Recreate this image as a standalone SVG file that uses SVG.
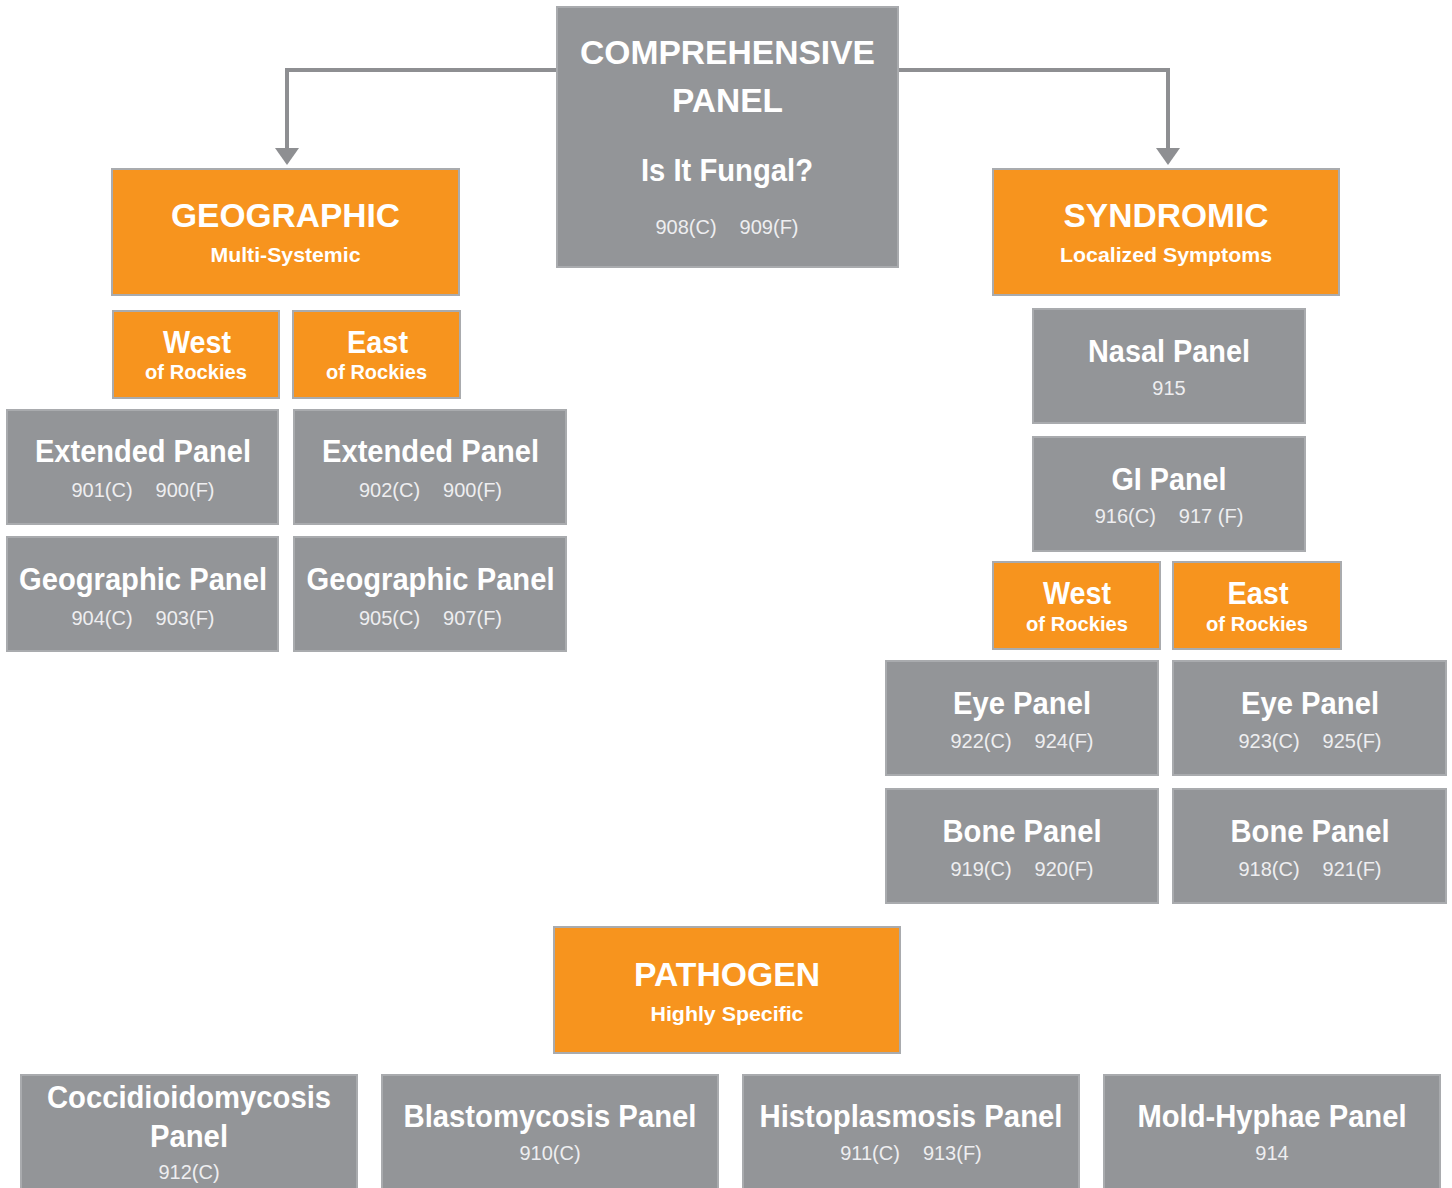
<svg xmlns="http://www.w3.org/2000/svg" width="1452" height="1188" viewBox="0 0 1452 1188">
<style>
text{font-family:"Liberation Sans",Arial,sans-serif;fill:#fff;text-anchor:middle}
.g{fill:#939598;stroke:#a9abae;stroke-width:2}
.o{fill:#f7941e;stroke:#a9abae;stroke-width:2}
.t{font-size:32px;font-weight:bold}
.h{font-size:34px;font-weight:bold}
.s{font-size:21px;font-weight:bold}
.w{font-size:31px;font-weight:bold}
.r{font-size:21px;font-weight:bold}
.n{font-size:20px;fill:#eeeef0}
.c{fill:none;stroke:#8e8f92;stroke-width:4}
.a{fill:#8e8f92}
</style>
<rect width="1452" height="1188" fill="#fff"/>
<g id="connectors">
<polyline class="c" points="557,70 287,70 287,150"/>
<polygon class="a" points="275,148 299,148 287,165"/>
<polyline class="c" points="898,70 1168,70 1168,150"/>
<polygon class="a" points="1156,148 1180,148 1168,165"/>
</g>
<g id="comprehensive">
<rect class="g" x="557" y="7" width="341" height="260"/>
<text class="h" x="727.5" y="64" textLength="295" lengthAdjust="spacingAndGlyphs">COMPREHENSIVE</text>
<text class="h" x="727.5" y="112" textLength="111" lengthAdjust="spacingAndGlyphs">PANEL</text>
<text class="t" x="727" y="181" textLength="172" lengthAdjust="spacingAndGlyphs">Is It Fungal?</text>
<text class="n" x="727" y="234"><tspan>908(C)</tspan><tspan dx="23">909(F)</tspan></text>
</g>
<g id="geographic">
<rect class="o" x="112" y="169" width="347" height="126"/>
<text class="h" x="285.5" y="227" textLength="229" lengthAdjust="spacingAndGlyphs">GEOGRAPHIC</text>
<text class="s" x="285.5" y="262" textLength="150" lengthAdjust="spacingAndGlyphs">Multi-Systemic</text>
</g>
<g id="geo-west">
<rect class="o" x="113" y="311" width="166" height="87"/>
<text class="w" x="197" y="353" textLength="68" lengthAdjust="spacingAndGlyphs">West</text>
<text class="r" x="196" y="379" textLength="102" lengthAdjust="spacingAndGlyphs">of Rockies</text>
</g>
<g id="geo-east">
<rect class="o" x="293" y="311" width="167" height="87"/>
<text class="w" x="377.5" y="353" textLength="61" lengthAdjust="spacingAndGlyphs">East</text>
<text class="r" x="376.5" y="379" textLength="101" lengthAdjust="spacingAndGlyphs">of Rockies</text>
</g>
<g id="ext-west">
<rect class="g" x="7" y="410" width="271" height="114"/>
<text class="t" x="143" y="462" textLength="216" lengthAdjust="spacingAndGlyphs">Extended Panel</text>
<text class="n" x="143" y="497"><tspan>901(C)</tspan><tspan dx="23">900(F)</tspan></text>
</g>
<g id="ext-east">
<rect class="g" x="294" y="410" width="272" height="114"/>
<text class="t" x="430.5" y="462" textLength="217" lengthAdjust="spacingAndGlyphs">Extended Panel</text>
<text class="n" x="430.5" y="497"><tspan>902(C)</tspan><tspan dx="23">900(F)</tspan></text>
</g>
<g id="geo-panel-west">
<rect class="g" x="7" y="537" width="271" height="114"/>
<text class="t" x="143" y="590" textLength="248" lengthAdjust="spacingAndGlyphs">Geographic Panel</text>
<text class="n" x="143" y="625"><tspan>904(C)</tspan><tspan dx="23">903(F)</tspan></text>
</g>
<g id="geo-panel-east">
<rect class="g" x="294" y="537" width="272" height="114"/>
<text class="t" x="430.5" y="590" textLength="248" lengthAdjust="spacingAndGlyphs">Geographic Panel</text>
<text class="n" x="430.5" y="625"><tspan>905(C)</tspan><tspan dx="23">907(F)</tspan></text>
</g>
<g id="syndromic">
<rect class="o" x="993" y="169" width="346" height="126"/>
<text class="h" x="1166" y="227" textLength="205" lengthAdjust="spacingAndGlyphs">SYNDROMIC</text>
<text class="s" x="1166" y="262" textLength="212" lengthAdjust="spacingAndGlyphs">Localized Symptoms</text>
</g>
<g id="nasal">
<rect class="g" x="1033" y="309" width="272" height="114"/>
<text class="t" x="1169" y="362" textLength="162" lengthAdjust="spacingAndGlyphs">Nasal Panel</text>
<text class="n" x="1169" y="395">915</text>
</g>
<g id="gi">
<rect class="g" x="1033" y="437" width="272" height="114"/>
<text class="t" x="1169" y="490" textLength="115" lengthAdjust="spacingAndGlyphs">GI Panel</text>
<text class="n" x="1169" y="523"><tspan>916(C)</tspan><tspan dx="23">917 (F)</tspan></text>
</g>
<g id="syn-west">
<rect class="o" x="993" y="562" width="167" height="87"/>
<text class="w" x="1077" y="604" textLength="68" lengthAdjust="spacingAndGlyphs">West</text>
<text class="r" x="1077" y="631" textLength="102" lengthAdjust="spacingAndGlyphs">of Rockies</text>
</g>
<g id="syn-east">
<rect class="o" x="1173" y="562" width="168" height="87"/>
<text class="w" x="1258" y="604" textLength="61" lengthAdjust="spacingAndGlyphs">East</text>
<text class="r" x="1257" y="631" textLength="102" lengthAdjust="spacingAndGlyphs">of Rockies</text>
</g>
<g id="eye-west">
<rect class="g" x="886" y="661" width="272" height="114"/>
<text class="t" x="1022" y="714" textLength="138" lengthAdjust="spacingAndGlyphs">Eye Panel</text>
<text class="n" x="1022" y="748"><tspan>922(C)</tspan><tspan dx="23">924(F)</tspan></text>
</g>
<g id="eye-east">
<rect class="g" x="1173" y="661" width="273" height="114"/>
<text class="t" x="1310" y="714" textLength="138" lengthAdjust="spacingAndGlyphs">Eye Panel</text>
<text class="n" x="1310" y="748"><tspan>923(C)</tspan><tspan dx="23">925(F)</tspan></text>
</g>
<g id="bone-west">
<rect class="g" x="886" y="789" width="272" height="114"/>
<text class="t" x="1022" y="842" textLength="159" lengthAdjust="spacingAndGlyphs">Bone Panel</text>
<text class="n" x="1022" y="876"><tspan>919(C)</tspan><tspan dx="23">920(F)</tspan></text>
</g>
<g id="bone-east">
<rect class="g" x="1173" y="789" width="273" height="114"/>
<text class="t" x="1310" y="842" textLength="159" lengthAdjust="spacingAndGlyphs">Bone Panel</text>
<text class="n" x="1310" y="876"><tspan>918(C)</tspan><tspan dx="23">921(F)</tspan></text>
</g>
<g id="pathogen">
<rect class="o" x="554" y="927" width="346" height="126"/>
<text class="h" x="727" y="986" textLength="186" lengthAdjust="spacingAndGlyphs">PATHOGEN</text>
<text class="s" x="727" y="1021" textLength="153" lengthAdjust="spacingAndGlyphs">Highly Specific</text>
</g>
<g id="cocci">
<rect class="g" x="21" y="1075" width="336" height="125"/>
<text class="t" x="189" y="1108" textLength="284" lengthAdjust="spacingAndGlyphs">Coccidioidomycosis</text>
<text class="t" x="189" y="1147" textLength="78" lengthAdjust="spacingAndGlyphs">Panel</text>
<text class="n" x="189" y="1179">912(C)</text>
</g>
<g id="blasto">
<rect class="g" x="382" y="1075" width="336" height="125"/>
<text class="t" x="550" y="1127" textLength="293" lengthAdjust="spacingAndGlyphs">Blastomycosis Panel</text>
<text class="n" x="550" y="1160">910(C)</text>
</g>
<g id="histo">
<rect class="g" x="743" y="1075" width="336" height="125"/>
<text class="t" x="911" y="1127" textLength="303" lengthAdjust="spacingAndGlyphs">Histoplasmosis Panel</text>
<text class="n" x="911" y="1160"><tspan>911(C)</tspan><tspan dx="23">913(F)</tspan></text>
</g>
<g id="mold">
<rect class="g" x="1104" y="1075" width="336" height="125"/>
<text class="t" x="1272" y="1127" textLength="269" lengthAdjust="spacingAndGlyphs">Mold-Hyphae Panel</text>
<text class="n" x="1272" y="1160">914</text>
</g>
</svg>
